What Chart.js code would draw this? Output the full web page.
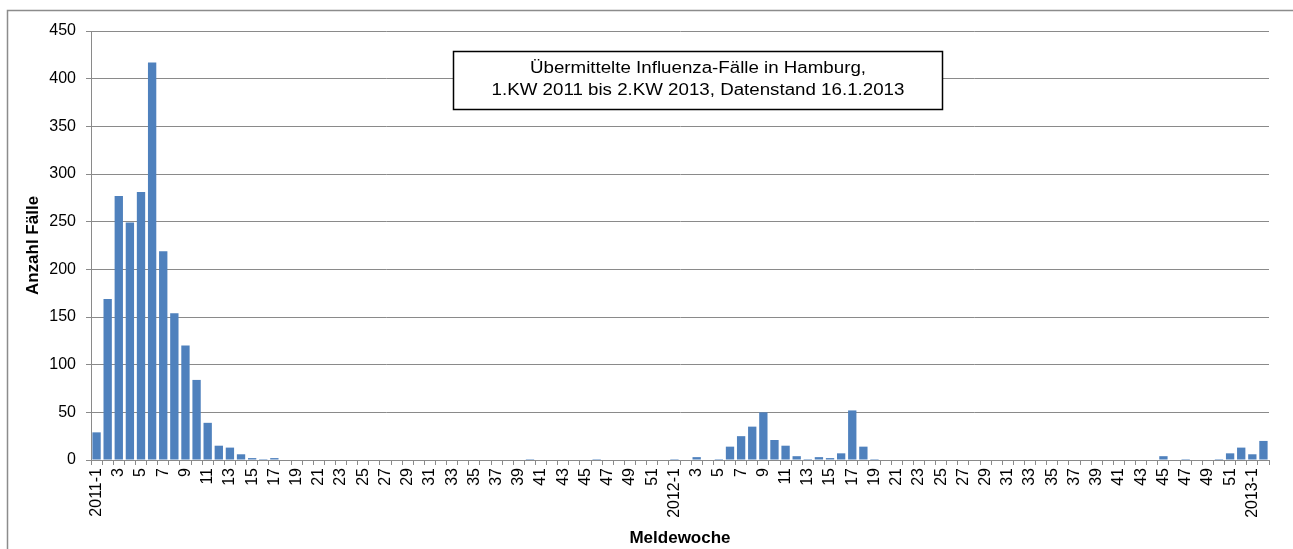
<!DOCTYPE html>
<html>
<head>
<meta charset="utf-8">
<script src="https://cdn.jsdelivr.net/npm/chart.js@4/dist/chart.umd.min.js"></script>
<style>
  html, body { margin: 0; padding: 0; background: #fff; }
  #wrap { width: 1293px; height: 549px; }
</style>
</head>
<body>
<div id="wrap"><canvas id="fluChart" width="1293" height="549"></canvas></div>
<script>
// Meldewochen (calendar weeks) as category labels
const weeks2011 = ["2011-1","2","3","4","5","6","7","8","9","10","11","12","13","14","15","16","17","18","19","20",
  "21","22","23","24","25","26","27","28","29","30","31","32","33","34","35","36","37","38","39","40",
  "41","42","43","44","45","46","47","48","49","50","51","52"];
const weeks2012 = ["2012-1","2","3","4","5","6","7","8","9","10","11","12","13","14","15","16","17","18","19","20",
  "21","22","23","24","25","26","27","28","29","30","31","32","33","34","35","36","37","38","39","40",
  "41","42","43","44","45","46","47","48","49","50","51","52"];
const weeks2013 = ["2013-1","2"];

// reported influenza cases per week
const cases2011 = [29,169,277,249,281,417,219,154,120,84,39,15,13,6,2,1,2,0,0,0,
  0,0,0,0,0,0,0,0,0,0,0,0,0,0,0,0,0,0,0,1,
  0,0,0,0,0,1,0,0,0,0,0,0];
const cases2012 = [1,0,3,0,1,14,25,35,50,21,15,4,1,3,2,7,52,14,1,0,
  0,0,0,0,0,0,0,0,0,0,0,0,0,0,0,0,0,0,0,0,
  0,0,0,0,4,0,1,0,0,1,7,13];
const cases2013 = [6,20];

const yTicks = [0,50,100,150,200,250,300,350,400,450];

const labels = [...weeks2011, ...weeks2012, ...weeks2013];
const values = [...cases2011, ...cases2012, ...cases2013];

const titleLines = ["Übermittelte Influenza-Fälle in Hamburg,", "1.KW 2011 bis 2.KW 2013, Datenstand 16.1.2013"];

const FONT = "'Liberation Sans', Arial, sans-serif";
const GRID = "#8a8a8a";

// frame around the chart + text box inside plot
const decor = {
  id: "decor",
  beforeDraw(chart) {
    const c = chart.ctx;
    c.save();
    c.strokeStyle = "#8c8c8c";
    c.lineWidth = 1.5;
    c.beginPath();
    c.moveTo(7.5, 549);
    c.lineTo(7.5, 10.5);
    c.lineTo(1293, 10.5);
    c.stroke();
    c.restore();
  },
  afterDraw(chart) {
    const c = chart.ctx;
    c.save();
    c.fillStyle = "#fff";
    c.fillRect(453, 51, 490, 59);
    c.strokeStyle = "#000";
    c.lineWidth = 1.5;
    c.strokeRect(453.5, 51.5, 489, 58);
    c.fillStyle = "#000";
    c.font = "16px " + FONT;
    c.textAlign = "center";
    c.textBaseline = "middle";
    // the original text is a bit wider than plain Arial
    c.translate(698, 0);
    c.scale(1.17, 1);
    c.fillText(titleLines[0], 0, 69);
    c.fillText(titleLines[1], 0, 91);
    c.restore();
  }
};

new Chart(document.getElementById("fluChart"), {
  type: "bar",
  data: {
    labels,
    datasets: [{
      label: "Anzahl Fälle",
      data: values,
      backgroundColor: "#4f81bd",
      borderWidth: 0,
      categoryPercentage: 1,
      barPercentage: 0.75
    }]
  },
  options: {
    responsive: false,
    animation: false,
    layout: { padding: { top: 31, right: 24, left: 0, bottom: 0 } },
    plugins: {
      legend: { display: false },
      tooltip: { enabled: false }
    },
    scales: {
      x: {
        afterFit: s => { s.height = 89; },
        grid: { offset: true, drawOnChartArea: false, color: GRID, tickLength: 5 },
        border: { color: GRID, width: 1 },
        ticks: {
          autoSkip: false,
          maxRotation: 90,
          minRotation: 90,
          padding: 3,
          color: "#000",
          font: { family: FONT, size: 16 },
          callback: (v, i) => (i % 2 === 0 ? labels[i] : "")
        },
        title: {
          display: true,
          text: "Meldewoche",
          color: "#000",
          font: { family: FONT, size: 17, weight: "bold" },
          padding: { top: 0, bottom: 0 }
        }
      },
      y: {
        min: 0,
        max: 450,
        afterFit: s => { s.width = 91; },
        afterBuildTicks: s => { s.ticks = yTicks.map(v => ({ value: v })); },
        grid: { color: GRID, tickLength: 5 },
        border: { color: GRID, width: 1 },
        ticks: {
          padding: 10,
          color: "#000",
          font: { family: FONT, size: 16 }
        },
        title: {
          display: true,
          text: "Anzahl Fälle",
          color: "#000",
          font: { family: FONT, size: 17, weight: "bold" },
          padding: { top: 23, bottom: 0 }
        }
      }
    }
  },
  plugins: [decor]
});
</script>
</body>
</html>
